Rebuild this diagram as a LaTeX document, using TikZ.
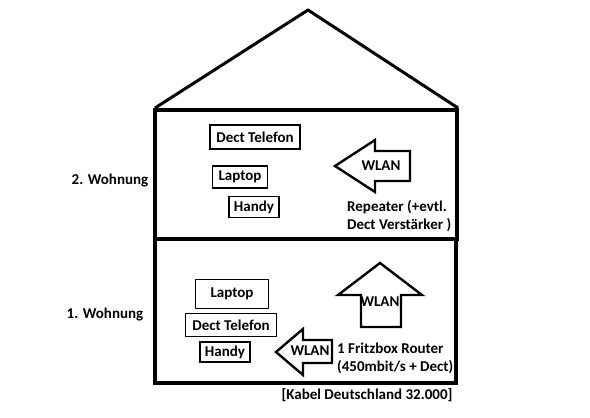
\documentclass[tikz,border=0pt]{standalone}
\usepackage{fontspec}
\setmainfont{Carlito}
\usetikzlibrary{arrows.meta}

\begin{document}
\begin{tikzpicture}[
        x=1pt, y=-1pt,
        every node/.style={font=\bfseries\fontsize{15}{18}\selectfont},
        device/.style={rectangle, draw, line width=1.6pt, inner sep=2pt, minimum height=22pt},
        wall/.style={line width=3.5pt},
        bigarrow/.style={draw, line width=2.4pt, line join=miter},
        caption/.style={anchor=west, align=left, inner sep=0pt}
    ]
        \useasboundingbox (0,0) rectangle (590,418);

        % House
        \draw[line width=3pt, line join=round] (155,108) -- (308,10) -- (458,108);
        \draw[wall] (155,110) rectangle (457,239);
        \draw[wall] (155,239) rectangle (456,383);

        % Floor labels
        \node (floor2) at (110,181) {2. Wohnung};
        \node (floor1) at (105,315) {1. Wohnung};

        % Nodes (2. Wohnung)
        \node[device, minimum width=90pt, minimum height=24pt] (dect2) at (255,137) {Dect Telefon};
        \node[device, minimum width=55pt] (laptop2) at (240,177) {Laptop};
        \node[device, minimum width=50pt, minimum height=21pt] (handy2) at (254,207) {Handy};

        % WLAN arrow of the repeater
        \draw[bigarrow] (335,166) -- (375,140) -- (375,151) -- (410,151)
            -- (410,181) -- (375,181) -- (375,192) -- cycle;
        \node (wlan2) at (381,166) {WLAN};
        \node[caption] (repeater) at (347,216) {Repeater (+evtl.\\Dect Verstärker )};

        % Nodes (1. Wohnung)
        \node[device, minimum width=73pt, minimum height=29pt] (laptop1) at (232,294) {Laptop};
        \node[device, minimum width=91pt, minimum height=23pt] (dect1) at (231,325) {Dect Telefon};
        \node[device, minimum width=50pt, minimum height=20pt] (handy1) at (225,352) {Handy};

        % WLAN arrows of the router
        \draw[bigarrow] (380,263) -- (422,295) -- (401,295) -- (401,327)
            -- (361,327) -- (361,295) -- (338,295) -- cycle;
        \node (wlanup) at (380,302) {WLAN};
        \draw[bigarrow] (276,352) -- (303,329) -- (303,340) -- (332,340)
            -- (332,363) -- (303,363) -- (303,375) -- cycle;
        \node (wlan1) at (310,351) {WLAN};
        \node[caption] (router) at (337,358) {1 Fritzbox Router\\(450mbit/s + Dect)};

        \node (kabel) at (367,395) {[Kabel Deutschland 32.000]};

    \end{tikzpicture}
\end{document}
